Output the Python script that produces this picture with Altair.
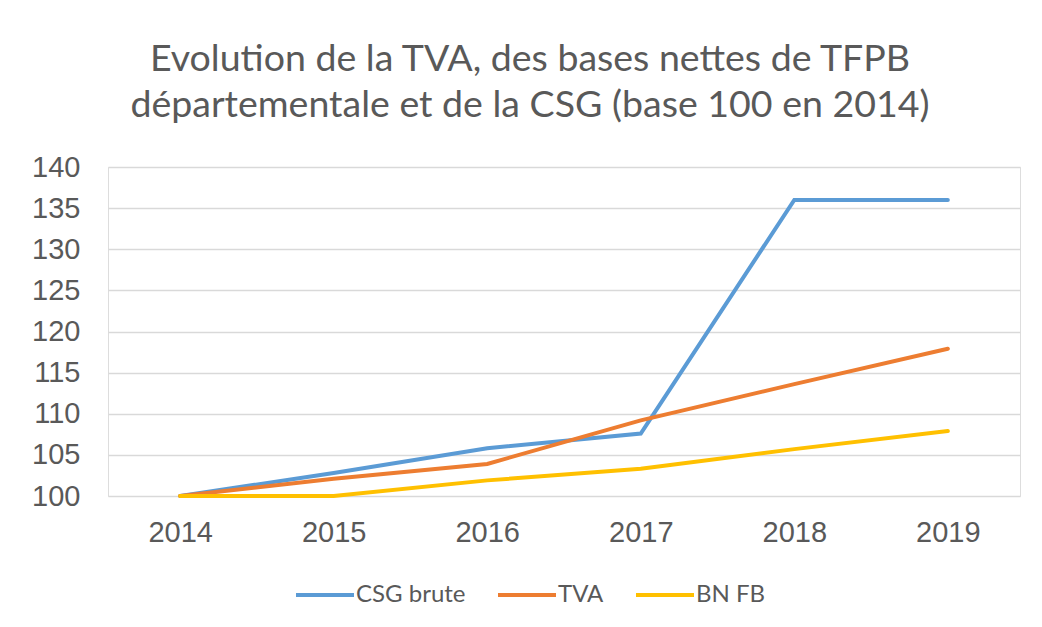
import altair as alt
import pandas as pd

years = ["2014", "2015", "2016", "2017", "2018", "2019"]
csg_brute = [100, 102.8, 105.8, 107.6, 136.0, 136.0]
tva = [100, 102.1, 103.9, 109.2, 113.6, 117.9]
bn_fb = [100, 100.0, 101.9, 103.3, 105.7, 107.9]

series_names = ["CSG brute", "TVA", "BN FB"]
series_colors = ["#5B9BD5", "#ED7D31", "#FFC000"]
y_ticks = [100, 105, 110, 115, 120, 125, 130, 135, 140]

rows = []
for name, vals in zip(series_names, [csg_brute, tva, bn_fb]):
    for yr, v in zip(years, vals):
        rows.append({"annee": yr, "valeur": v, "serie": name})
df = pd.DataFrame(rows)

title = alt.TitleParams(
    text=["Evolution de la TVA, des bases nettes de TFPB",
          "départementale et de la CSG (base 100 en 2014)"],
    font="Lato", fontSize=37.5, fontWeight="normal", color="#595959",
    anchor="middle", dx=-34, offset=29, lineHeight=46,
)

chart = alt.Chart(df, title=title).mark_line(strokeWidth=4, strokeCap="round").encode(
    x=alt.X("annee:N", sort=years, title=None,
            scale=alt.Scale(type="point", padding=0.47),
            axis=alt.Axis(labelAngle=0, labelFont="Liberation Sans", labelFontSize=29,
                          labelColor="#595959", labelPadding=22, ticks=False,
                          domain=False, grid=False)),
    y=alt.Y("valeur:Q", title=None,
            scale=alt.Scale(domain=[100, 140], nice=False, zero=False),
            axis=alt.Axis(values=y_ticks, labelFont="Liberation Sans", labelFontSize=29,
                          labelColor="#595959", labelPadding=28, ticks=False,
                          domain=False, gridColor="#d9d9d9", gridWidth=1.5)),
    color=alt.Color("serie:N", sort=series_names,
                    scale=alt.Scale(domain=series_names, range=series_colors),
                    legend=alt.Legend(title=None, orient="none", direction="horizontal",
                                      legendX=186, legendY=397,
                                      symbolType="stroke", symbolSize=3364,
                                      symbolStrokeWidth=4, labelFont="Lato",
                                      labelFontSize=24, labelColor="#595959",
                                      labelOffset=0, columnPadding=24)),
    order=alt.Order("annee:N"),
).properties(
    width=912, height=329,
    autosize=alt.AutoSizeParams(type="none"),
    padding={"left": 100, "top": 159, "right": 14, "bottom": 123},
).configure_view(stroke=None).configure(background="white")

chart.save("out.html", embed_options={"renderer": "svg", "actions": False})
